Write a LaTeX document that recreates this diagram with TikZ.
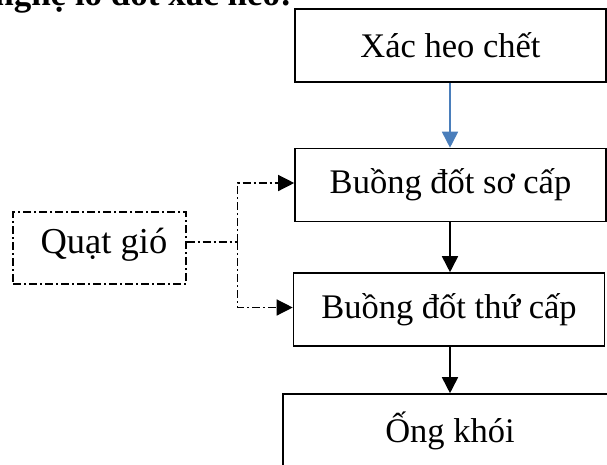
\documentclass[tikz,border=0pt]{standalone}
\usepackage{fontspec}
\setmainfont{Liberation Serif}
\usetikzlibrary{arrows.meta}
\definecolor{flowblue}{HTML}{4A7EBB}
\tikzset{
  stage/.style={draw, line width=1.6pt, inner sep=0pt, minimum width=311pt, minimum height=73pt,
    font=\fontsize{34.5}{40}\selectfont},
  fanbox/.style={draw, line width=1.3pt, dash pattern=on 8pt off 3pt on 2pt off 3pt, inner sep=0pt,
    minimum width=173pt, minimum height=72pt},
  flow/.style={line width=1.7pt, -{Triangle[width=16pt,length=16pt]}},
  airflow/.style={line width=1.3pt, dash pattern=on 8pt off 3pt on 2pt off 3pt},
  airtip/.style={airflow, -{Triangle[width=16pt,length=16pt]}}
}
\begin{document}
\begin{tikzpicture}[x=1pt, y=-1pt]
\useasboundingbox (0,0) rectangle (607,464);
\clip (0,0) rectangle (607,464);

% heading line, mostly above the frame
\node[anchor=base east, inner sep=0pt, font=\fontsize{35}{40}\selectfont\bfseries] (title) at (292,5) {nghệ lò đốt xác heo:};

% process stages
\node[stage] (carcass) at (450.5,45.5) {Xác heo chết};
\node[stage] (primary) at (450.5,185) {Buồng đốt sơ cấp};
\node[stage] (secondary) at (449,309.5) {Buồng đốt thứ cấp};
\node[stage, minimum width=334pt] (stack) at (450,430.5) {Ống khói};

% blower
\node[fanbox] (fan) at (99.5,248) {};
\node[font=\fontsize{36.5}{42}\selectfont, inner sep=0pt] (fanlabel) at (104,245) {Quạt gió};

% main flow
\draw[flow, draw=flowblue, fill=flowblue] (carcass.south -| 450,0) -- (primary.north -| 450,0);
\draw[flow] (primary.south -| 450,0) -- (secondary.north -| 450,0);
\draw[flow] (secondary.south -| 450,0) -- (stack.north -| 450,0);

% air supply
\draw[airflow] ([yshift=6pt]fan.east) -- ++(51,0) coordinate (split);
\draw[airtip] (split) |- ([yshift=2pt]primary.west);
\draw[airtip] (split) |- ([yshift=2pt]secondary.west);
\end{tikzpicture}
\end{document}
